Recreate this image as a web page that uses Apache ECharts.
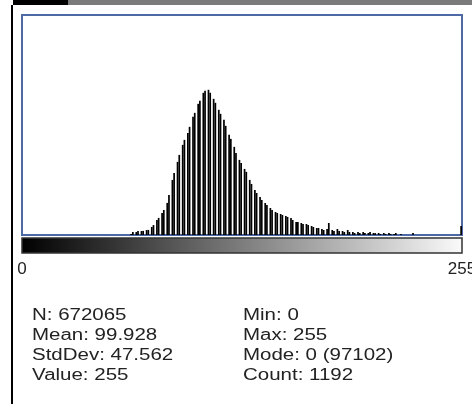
<!DOCTYPE html>
<html>
<head>
<meta charset="utf-8">
<script src="https://cdn.jsdelivr.net/npm/echarts@6/dist/echarts.min.js"></script>
<style>
html, body { margin: 0; padding: 0; background: #ffffff; }
#chart_1 { width: 472px; height: 404px; }
</style>
</head>
<body>
<div id="chart_1"></div>
<script>
// histogram counts per grey level 0..255
var counts = [
	0, 0, 0, 0, 0, 0, 0, 0, 0, 0, 0, 0, 0, 0, 0, 0,
	0, 0, 0, 0, 0, 0, 0, 0, 0, 0, 0, 0, 0, 0, 0, 0,
	0, 0, 0, 0, 0, 0, 0, 0, 0, 0, 0, 0, 0, 0, 0, 0,
	0, 0, 0, 0, 0, 0, 0, 0, 0, 0, 0, 0, 0, 0, 0, 130,
	400, 0, 390, 530, 0, 520, 540, 0, 650, 670, 0, 1060, 1310, 0, 1980, 2250,
	0, 2900, 3300, 0, 4230, 5280, 0, 7260, 8180, 0, 9640, 10560, 0, 11880, 12540, 0,
	13460, 14260, 0, 15580, 16100, 0, 17290, 17690, 0, 18740, 19010, 0, 19140, 18750, 0, 17950,
	17420, 0, 16500, 15970, 0, 15180, 14390, 0, 13200, 12670, 0, 11620, 10820, 0, 9900, 9500,
	0, 8710, 8320, 0, 7260, 6730, 0, 5940, 5540, 0, 5020, 4620, 0, 4220, 3960, 0,
	3560, 3300, 0, 3040, 2900, 0, 2770, 2640, 0, 2510, 2380, 0, 2240, 1980, 0, 1720,
	1710, 0, 1580, 1450, 0, 1450, 1320, 0, 1190, 1060, 0, 920, 930, 0, 790, 660,
	0, 790, 1580, 0, 660, 530, 0, 790, 530, 0, 530, 400, 0, 660, 400, 0,
	400, 260, 0, 400, 260, 0, 390, 270, 0, 260, 400, 0, 260, 250, 0, 270,
	130, 0, 260, 140, 0, 250, 130, 0, 120, 260, 0, 0, 130, 0, 0, 0,
	0, 0, 0, 260, 0, 0, 0, 0, 0, 0, 0, 0, 0, 0, 0, 0,
	0, 0, 0, 0, 0, 0, 0, 0, 0, 0, 0, 0, 0, 0, 0, 1192
];
var levels = counts.map(function (c, i) { return String(i); });
var rangeTicks = [0, 255];

var statsLeft = ['N: 672065', 'Mean: 99.928', 'StdDev: 47.562', 'Value: 255'];
var statsRight = ['Min: 0', 'Max: 255', 'Mode: 0 (97102)', 'Count: 1192'];

var dom = document.getElementById('chart_1');
var myChart = echarts.init(dom);

var textFont = '"Liberation Sans", Arial, sans-serif';
var graphics = [
	{ type: 'rect', shape: { x: 13, y: 0, width: 55, height: 5 }, style: { fill: '#000' } },
	{ type: 'rect', shape: { x: 68, y: 0, width: 404, height: 5 }, style: { fill: '#7a7a7a' } },
	{ type: 'rect', shape: { x: 11, y: 5, width: 2, height: 399 }, style: { fill: '#000' } }
];
// the stats text in the picture is wide and short, so stretch it a little
statsLeft.forEach(function (t, i) {
	graphics.push({ type: 'text', x: 32, y: 316 + i * 20, scaleX: 1.28,
		style: { text: t, fill: '#222', font: '16px ' + textFont, verticalAlign: 'middle' } });
});
statsRight.forEach(function (t, i) {
	graphics.push({ type: 'text', x: 243, y: 316 + i * 20, scaleX: 1.28,
		style: { text: t, fill: '#222', font: '16px ' + textFont, verticalAlign: 'middle' } });
});

option = {
	backgroundColor: '#ffffff',
	animation: false,
	grid: [
		{ left: 22, top: 15, width: 440, height: 220, show: true, borderColor: '#4d69a6', borderWidth: 2,
			backgroundColor: 'transparent', outerBoundsMode: 'none' },
		{ left: 22, top: 238, width: 440, height: 15, show: true, borderColor: '#333', borderWidth: 1.5,
			outerBoundsMode: 'none',
			backgroundColor: new echarts.graphic.LinearGradient(0, 0, 1, 0, [
				{ offset: 0, color: '#000000' },
				{ offset: 1, color: '#fafafa' }
			]) }
	],
	xAxis: [
		{ gridIndex: 0, type: 'category', data: levels, show: false, boundaryGap: true },
		{ gridIndex: 1, type: 'value', min: rangeTicks[0], max: rangeTicks[1], interval: 255,
			axisLine: { show: false }, axisTick: { show: false }, splitLine: { show: false },
			axisLabel: { show: true, color: '#222', fontSize: 17, fontFamily: textFont, margin: 8 } }
	],
	yAxis: [
		{ gridIndex: 0, type: 'value', min: 0, max: 29000, show: false, splitLine: { show: false } },
		{ gridIndex: 1, type: 'value', show: false }
	],
	series: [
		{
			type: 'bar',
			xAxisIndex: 0,
			yAxisIndex: 0,
			data: counts,
			barWidth: '100%',
			barCategoryGap: '0%',
			itemStyle: { color: '#000000' },
			silent: true
		}
	],
	graphic: graphics
};

if (option && typeof option === "object") {
	myChart.setOption(option, true);
}
</script>
</body>
</html>
